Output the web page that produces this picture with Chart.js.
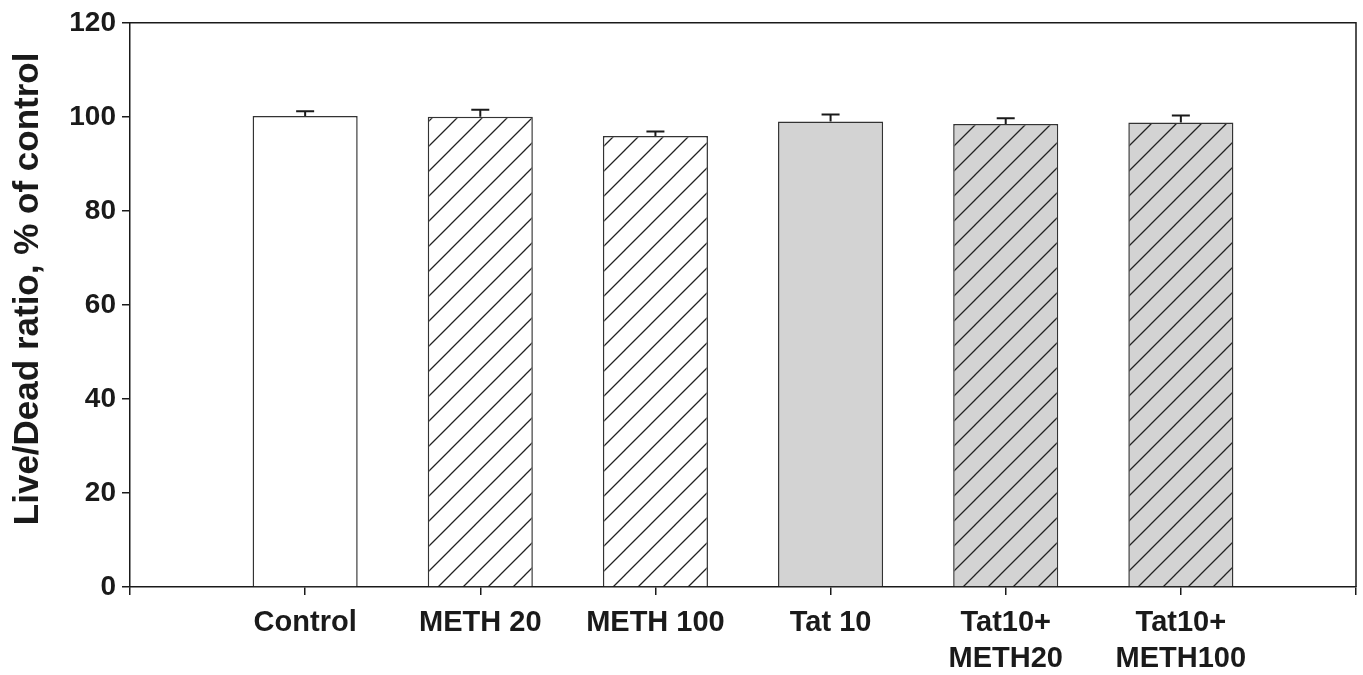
<!DOCTYPE html>
<html>
<head>
<meta charset="utf-8">
<script src="https://cdn.jsdelivr.net/npm/chart.js@4"></script>
<style>
  html, body { margin: 0; padding: 0; background: #fff; }
  #wrap { width: 1363px; height: 675px; position: relative; }
</style>
</head>
<body>
<div id="wrap"><canvas id="chart"></canvas></div>
<script>
// categories and values
const categories = ['Control', 'METH 20', 'METH 100', 'Tat 10', 'Tat10+\nMETH20', 'Tat10+\nMETH100'];
const liveDead = [100.2, 100.0, 95.9, 99.0, 98.5, 98.8];
const errUp = [1.0, 1.5, 1.0, 1.5, 1.2, 1.5];
const hatched = [false, true, true, false, true, true];
const shaded = [false, false, false, true, true, true];
const yTicks = { min: 0, max: 120, step: 20 };
const yTitle = 'Live/Dead ratio, % of control';

const GRAY = '#d3d3d3';
const INK = '#1a1a1a';
const FONT = "'Liberation Sans', Arial, Helvetica, sans-serif";

const makeHatch = (bg) => {
  const s = 25;
  const c = document.createElement('canvas');
  c.width = s; c.height = s;
  const g = c.getContext('2d');
  g.fillStyle = bg;
  g.fillRect(0, 0, s, s);
  g.strokeStyle = '#222';
  g.lineWidth = 1.3;
  g.beginPath();
  g.moveTo(-2, s + 2); g.lineTo(s + 2, -2);
  g.moveTo(-2, 2); g.lineTo(2, -2);
  g.moveTo(s - 2, s + 2); g.lineTo(s + 2, s - 2);
  g.stroke();
  return document.getElementById('chart').getContext('2d').createPattern(c, 'repeat');
};

const fills = categories.map((_, i) => {
  const bg = shaded[i] ? GRAY : '#ffffff';
  return hatched[i] ? makeHatch(bg) : bg;
});

// upward error bars, box frame, y-axis title
const extras = {
  id: 'extras',
  afterDatasetsDraw(chart) {
    const { ctx, chartArea, scales } = chart;
    const meta = chart.getDatasetMeta(0);
    ctx.save();
    ctx.strokeStyle = INK;
    ctx.lineWidth = 2;
    meta.data.forEach((bar, i) => {
      const top = scales.y.getPixelForValue(liveDead[i]);
      const cap = scales.y.getPixelForValue(liveDead[i] + errUp[i]);
      ctx.beginPath();
      ctx.moveTo(bar.x, top);
      ctx.lineTo(bar.x, cap);
      ctx.moveTo(bar.x - 9, cap);
      ctx.lineTo(bar.x + 9, cap);
      ctx.stroke();
    });
    ctx.lineWidth = 1.5;
    ctx.beginPath();
    ctx.moveTo(chartArea.left, chartArea.top);
    ctx.lineTo(chartArea.right, chartArea.top);
    ctx.lineTo(chartArea.right, chartArea.bottom);
    ctx.stroke();

    // axis title, a bit above the plot centre like the original
    ctx.translate(28, chartArea.top + (chartArea.bottom - chartArea.top) / 2 - 16);
    ctx.rotate(-Math.PI / 2);
    ctx.fillStyle = INK;
    ctx.font = 'bold 35px ' + FONT;
    ctx.textAlign = 'center';
    ctx.textBaseline = 'middle';
    ctx.fillText(yTitle, 0, 0);
    ctx.restore();
  }
};

new Chart(document.getElementById('chart'), {
  type: 'bar',
  data: {
    datasets: [{
      data: liveDead.map((v, i) => ({ x: i + 1, y: v })),
      backgroundColor: fills,
      borderColor: '#333',
      borderWidth: 1.5,
      barPercentage: 0.6,
      categoryPercentage: 1.0
    }]
  },
  options: {
    responsive: true,
    maintainAspectRatio: false,
    animation: false,
    layout: { padding: { top: 20, right: 7, left: 0, bottom: 0 } },
    plugins: { legend: { display: false }, tooltip: { enabled: false } },
    scales: {
      x: {
        type: 'linear',
        min: 0,
        max: categories.length + 1,
        offset: false,
        afterFit: (s) => { s.height = 88; s.paddingRight = 0; s.paddingLeft = 0; },
        grid: { display: true, offset: false, drawOnChartArea: false, drawTicks: true, tickLength: 8, color: INK, lineWidth: 1.5 },
        border: { display: true, color: INK, width: 1.5 },
        ticks: {
          stepSize: 1,
          autoSkip: false,
          maxRotation: 0,
          padding: 10,
          color: INK,
          font: { family: FONT, size: 29, weight: 'bold', lineHeight: 1.24 },
          callback: (v) => {
            const lbl = categories[v - 1];
            return lbl ? lbl.split('\n') : '';
          }
        }
      },
      y: {
        min: yTicks.min,
        max: yTicks.max,
        afterFit: (s) => { s.width = 130; },
        grid: { display: true, drawOnChartArea: false, drawTicks: true, tickLength: 8, color: INK, lineWidth: 1.5 },
        border: { display: true, color: INK, width: 1.5 },
        ticks: {
          stepSize: yTicks.step,
          padding: 6,
          color: INK,
          font: { family: FONT, size: 28, weight: 'bold' }
        }
      }
    }
  },
  plugins: [extras]
});
</script>
</body>
</html>
